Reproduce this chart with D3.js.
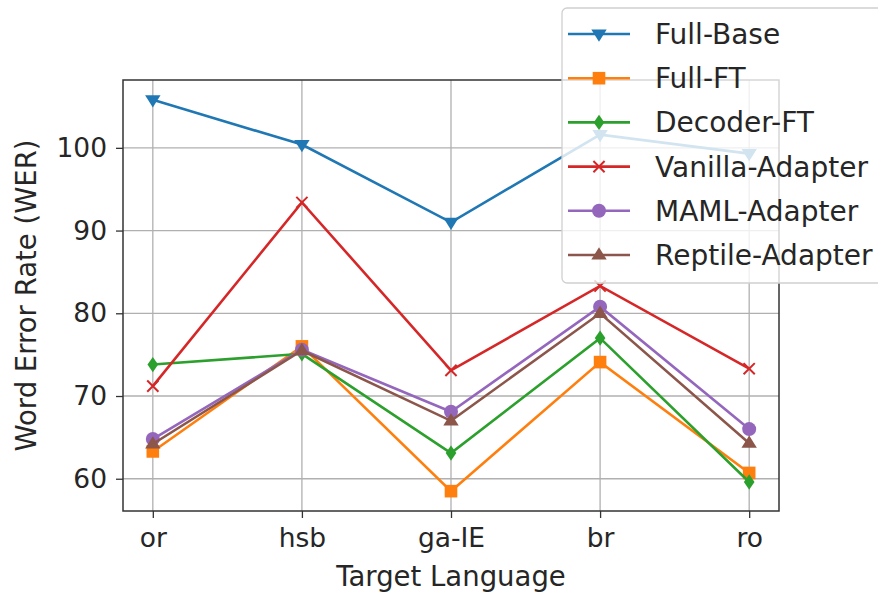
<!DOCTYPE html>
<html>
<head>
<meta charset="utf-8">
<script src="https://cdn.jsdelivr.net/npm/d3@7"></script>
<style>
  body { margin: 0; background: #fff; }
  text { font-family: "DejaVu Sans", sans-serif; fill: #262626; }
</style>
</head>
<body>
<svg id="chart" width="878" height="593"></svg>
<script>
// data
var languages = ["or", "hsb", "ga-IE", "br", "ro"];
var seriesNames = ["Full-Base", "Full-FT", "Decoder-FT", "Vanilla-Adapter", "MAML-Adapter", "Reptile-Adapter"];
var fullBase    = [105.8, 100.4, 91.0, 101.6, 99.3];
var fullFT      = [63.3, 76.0, 58.5, 74.1, 60.7];
var decoderFT   = [73.8, 75.1, 63.1, 77.0, 59.6];
var vanilla     = [71.2, 93.4, 73.1, 83.3, 73.3];
var maml        = [64.8, 75.6, 68.1, 80.8, 66.0];
var reptile     = [64.2, 75.5, 67.0, 80.0, 64.3];
var yTicks = [60, 70, 80, 90, 100];

var colors = ["#1f77b4", "#ff7f0e", "#2ca02c", "#d62728", "#9467bd", "#8c564b"];
var symbols = ["triDown", "square", "diamond", "cross", "circle", "triUp"];
var allSeries = [fullBase, fullFT, decoderFT, vanilla, maml, reptile];

var svg = d3.select("#chart");
var margin = { top: 80, right: 99, bottom: 82, left: 123 },
    width = 878 - margin.left - margin.right,
    height = 593 - margin.top - margin.bottom;

var x = d3.scalePoint().domain(languages).range([0, width]).padding(0.2);
var y = d3.scaleLinear().domain([56.1, 108.2]).range([height, 0]);

var g = svg.append("g").attr("transform", "translate(" + margin.left + "," + margin.top + ")");

// grid
g.selectAll(".gx").data(languages).enter().append("line")
  .attr("x1", function (d) { return x(d); }).attr("x2", function (d) { return x(d); })
  .attr("y1", 0).attr("y2", height)
  .attr("stroke", "#b0b0b0").attr("stroke-width", 1.3);
g.selectAll(".gy").data(yTicks).enter().append("line")
  .attr("y1", function (d) { return y(d); }).attr("y2", function (d) { return y(d); })
  .attr("x1", 0).attr("x2", width)
  .attr("stroke", "#b0b0b0").attr("stroke-width", 1.3);

// axes
var xAxis = g.append("g").attr("transform", "translate(0," + height + ")")
  .call(d3.axisBottom(x).tickSize(7).tickPadding(10));
var yAxis = g.append("g")
  .call(d3.axisLeft(y).tickValues(yTicks).tickSize(7).tickPadding(9));
[xAxis, yAxis].forEach(function (a) {
  a.select(".domain").remove();
  a.selectAll("line").attr("stroke", "#333").attr("stroke-width", 1.3);
  a.selectAll("text").attr("font-size", "26.5px").attr("fill", "#262626")
    .attr("font-family", "DejaVu Sans, sans-serif");
});

g.append("rect").attr("width", width).attr("height", height)
  .attr("fill", "none").attr("stroke", "#333").attr("stroke-width", 1.5);

// markers
function marker(sel, type, color, s) {
  if (type === "circle") {
    sel.append("circle").attr("r", s * 0.5).attr("fill", color);
  } else if (type === "square") {
    sel.append("rect").attr("x", -s * 0.45).attr("y", -s * 0.45)
      .attr("width", s * 0.9).attr("height", s * 0.9).attr("fill", color);
  } else if (type === "diamond") {
    var h = s * 0.55, w = s * 0.38;
    sel.append("path").attr("d", "M0," + (-h) + "L" + w + ",0L0," + h + "L" + (-w) + ",0Z").attr("fill", color);
  } else if (type === "cross") {
    var c = s * 0.4;
    sel.append("path").attr("d", "M" + (-c) + "," + (-c) + "L" + c + "," + c + "M" + (-c) + "," + c + "L" + c + "," + (-c))
      .attr("stroke", color).attr("stroke-width", 2);
  } else if (type === "triDown") {
    var t = s * 0.55;
    sel.append("path").attr("d", "M" + (-t) + "," + (-t * 0.6) + "L" + t + "," + (-t * 0.6) + "L0," + t + "Z").attr("fill", color);
  } else if (type === "triUp") {
    var u = s * 0.55;
    sel.append("path").attr("d", "M" + (-u) + "," + (u * 0.6) + "L" + u + "," + (u * 0.6) + "L0," + (-u) + "Z").attr("fill", color);
  }
}

var line = d3.line()
  .x(function (d, i) { return x(languages[i]); })
  .y(function (d) { return y(d); });

allSeries.forEach(function (vals, k) {
  g.append("path").datum(vals)
    .attr("d", line).attr("fill", "none")
    .attr("stroke", colors[k]).attr("stroke-width", 2.6);
  vals.forEach(function (v, i) {
    var m = g.append("g").attr("transform", "translate(" + x(languages[i]) + "," + y(v) + ")");
    marker(m, symbols[k], colors[k], 14);
  });
});

// axis titles
svg.append("text")
  .attr("x", margin.left + width / 2).attr("y", 586)
  .attr("text-anchor", "middle").attr("font-size", "27.5px")
  .text("Target Language");
svg.append("text")
  .attr("transform", "translate(36," + (margin.top + height / 2) + ") rotate(-90)")
  .attr("text-anchor", "middle").attr("font-size", "27.5px")
  .text("Word Error Rate (WER)");

// legend
var lg = svg.append("g").attr("transform", "translate(562,8)");
lg.append("rect").attr("width", 330).attr("height", 275).attr("rx", 5)
  .attr("fill", "#fff").attr("fill-opacity", 0.8)
  .attr("stroke", "#d0d0d0").attr("stroke-width", 1.3);
seriesNames.forEach(function (name, k) {
  var ly = 26 + k * 44.2;
  lg.append("line").attr("x1", 6).attr("x2", 68).attr("y1", ly).attr("y2", ly)
    .attr("stroke", colors[k]).attr("stroke-width", 2.6);
  marker(lg.append("g").attr("transform", "translate(37," + ly + ")"), symbols[k], colors[k], 14);
  lg.append("text").attr("x", 93).attr("y", ly).attr("dy", "0.36em")
    .attr("font-size", "28px").text(name);
});
</script>
</body>
</html>
